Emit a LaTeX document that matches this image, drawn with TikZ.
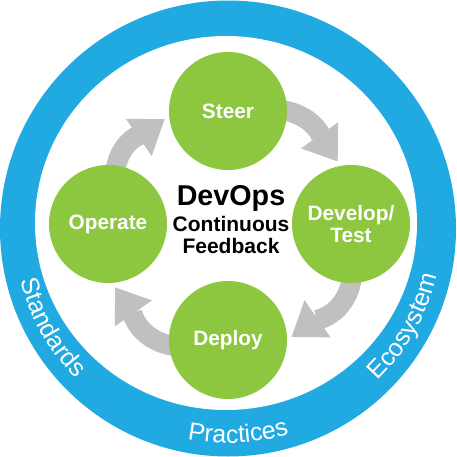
\documentclass[tikz,border=0pt]{standalone}
\usepackage{fontspec}
\setmainfont{Liberation Sans}
\usetikzlibrary{arrows.meta,decorations.text}
\definecolor{ringblue}{RGB}{33,169,225}
\definecolor{stagegreen}{RGB}{141,198,63}
\definecolor{arrowgray}{RGB}{192,192,192}
\pgfdeclarelayer{bg}
\pgfsetlayers{bg,main}
\begin{document}
\begin{tikzpicture}[x=1pt,y=1pt,
  stage/.style={circle, fill=stagegreen, minimum size=118pt, inner sep=0pt,
    text=white, font=\fontsize{20.8}{21.5}\selectfont\bfseries, align=center},
  cycle arrow/.style={draw=arrowgray, line width=20pt,
    -{Triangle[width=43pt,length=32pt]}, shorten >=5pt, shorten <=-4pt},
  hub/.style={font=\fontsize{21}{24}\selectfont\bfseries, anchor=base, inner sep=0pt},
  ringtext/.style={decorate, decoration={text along path, text align=center, text color=white}}
]
\useasboundingbox (0,0) rectangle (456,-457);
\begin{pgfonlayer}{bg}
  \fill[ringblue] (228,-228.5) circle (228);
  \fill[white] (226,-223) ellipse (191 and 187);
\end{pgfonlayer}
\node[stage] (steer) at (228,-111) {Steer};
\node[stage] (dev) at (351,-224) {Develop/\\Test};
\node[stage] (deploy) at (228,-340) {Deploy};
\node[stage] (operate) at (108,-224) {Operate};
\begin{pgfonlayer}{bg}
  \draw[cycle arrow] (steer.0) to[out=-10,in=125] (dev.100);
  \draw[cycle arrow] (dev.-90) to[out=-100,in=35] (deploy.0);
  \draw[cycle arrow] (deploy.185) to[out=170,in=-55] (operate.-86);
  \draw[cycle arrow] (operate.82) to[out=80,in=-145] (steer.185);
\end{pgfonlayer}
\node[hub, font=\fontsize{28.7}{30}\selectfont\bfseries] (devops) at (231,-205) {DevOps};
\node[hub] (cont) at (231,-231) {Continuous};
\node[hub] (feed) at (231,-253) {Feedback};
\path[ringtext, decoration={text={|\fontsize{25}{25}\selectfont|Standards}}]
  (228,-228) ++(179.5:214) arc[start angle=179.5, end angle=239.5, radius=214];
\path[ringtext, decoration={text={|\fontsize{25}{25}\selectfont|Practices}}]
  (228,-228) ++(242.8:215) arc[start angle=242.8, end angle=302.8, radius=215];
\path[ringtext, decoration={text={|\fontsize{25}{25}\selectfont|Ecosystem}}]
  (228,-228) ++(300.8:214) arc[start angle=300.8, end angle=360.8, radius=214];
\end{tikzpicture}
\end{document}
